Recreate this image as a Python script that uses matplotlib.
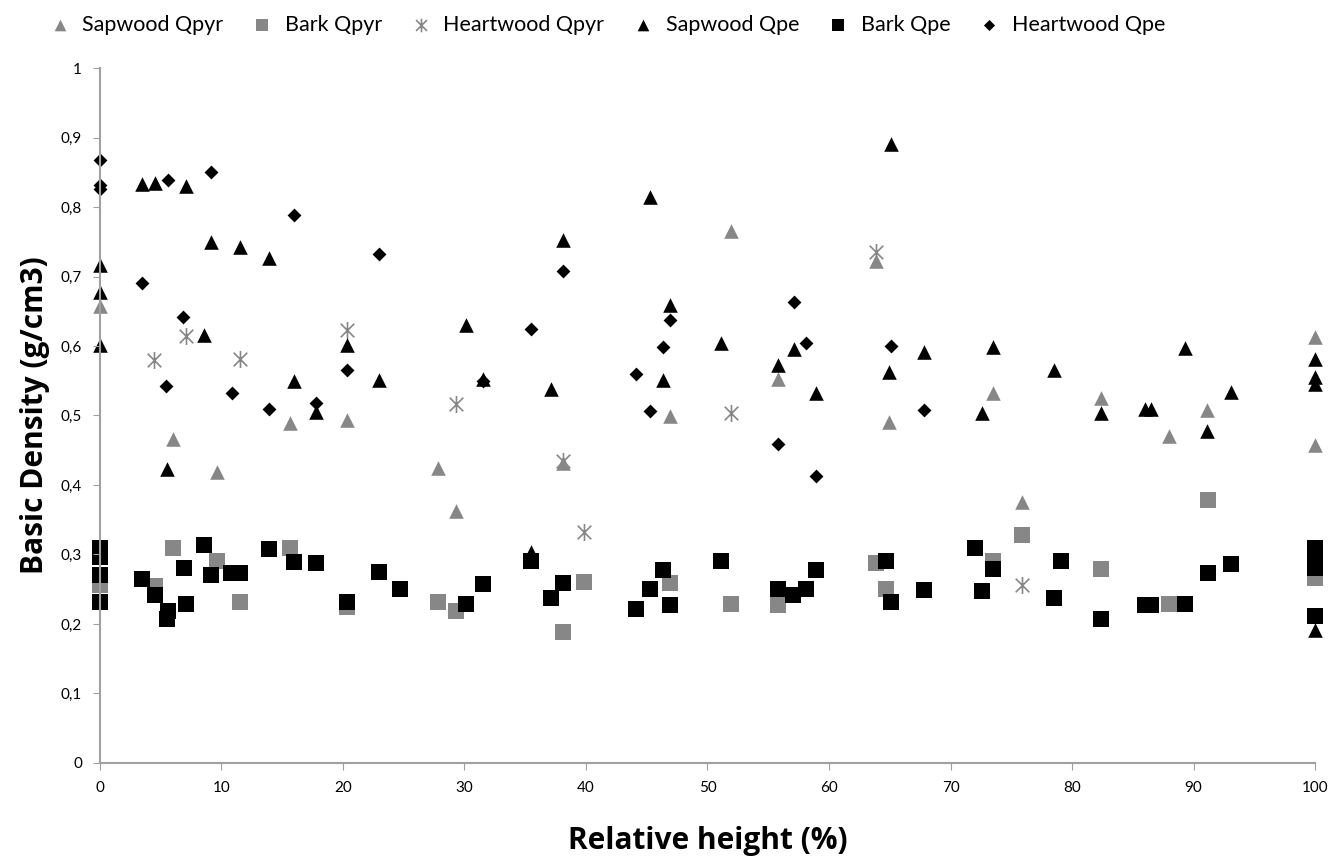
import matplotlib
matplotlib.use("Agg")
import matplotlib.pyplot as plt
from matplotlib.path import Path

plt.rcParams['font.family'] = ['Lato', 'DejaVu Sans']

# Sapwood Qpyr (grey triangles)
sap_pyr_x = [0, 6.0, 9.65, 15.6, 20.35, 27.8, 29.3, 38.1, 46.95, 51.9, 55.8, 63.9,
             64.9, 73.5, 75.9, 82.4, 88.0, 91.1, 100, 100]
sap_pyr_y = [0.657, 0.466, 0.418, 0.489, 0.494, 0.424, 0.363, 0.431, 0.499, 0.766, 0.553, 0.722,
             0.491, 0.532, 0.376, 0.525, 0.470, 0.508, 0.613, 0.457]

# Bark Qpyr (grey squares)
bark_pyr_x = [0, 4.5, 6.0, 9.65, 11.5, 15.6, 20.35, 27.8, 29.3, 38.1, 39.8, 46.95,
              51.9, 55.8, 63.9, 64.7, 73.5, 75.9, 82.4, 88.0, 91.2, 100]
bark_pyr_y = [0.256, 0.254, 0.309, 0.291, 0.232, 0.310, 0.225, 0.231, 0.219, 0.188, 0.261, 0.259,
              0.229, 0.227, 0.288, 0.251, 0.291, 0.328, 0.279, 0.229, 0.379, 0.266]

# Heartwood Qpyr (grey asterisks)
heart_pyr_x = [4.47, 7.08, 11.5, 20.35, 29.3, 38.1, 39.8, 51.9, 63.9, 75.9]
heart_pyr_y = [0.580, 0.614, 0.582, 0.623, 0.517, 0.435, 0.333, 0.504, 0.735, 0.256]

# Sapwood Qpe (black triangles)
sap_pe_x = [0, 0, 0, 3.5, 4.5, 5.54, 7.1, 8.56, 9.1, 11.5, 13.9, 16.0, 17.8, 20.35, 23.0,
            30.1, 31.5, 35.5, 37.1, 38.1, 45.3, 46.3, 46.9, 51.1, 55.8, 57.1, 58.9,
            64.9, 65.1, 67.8, 72.6, 73.5, 78.5, 82.4, 86.0, 86.5, 89.3, 91.1, 93.1,
            100, 100, 100, 100]
sap_pe_y = [0.717, 0.677, 0.601, 0.833, 0.834, 0.423, 0.830, 0.616, 0.750, 0.743, 0.726, 0.549, 0.505, 0.601, 0.551,
            0.630, 0.552, 0.304, 0.538, 0.752, 0.814, 0.551, 0.659, 0.605, 0.573, 0.595, 0.532,
            0.563, 0.891, 0.592, 0.504, 0.599, 0.566, 0.503, 0.510, 0.510, 0.597, 0.477, 0.534,
            0.582, 0.556, 0.546, 0.192]

# Bark Qpe (black squares)
bark_pe_x = [0, 0, 0, 0, 3.5, 4.5, 5.5, 5.6, 6.9, 7.1, 8.6, 9.1, 10.8, 11.5, 13.9, 16.0,
             17.8, 20.35, 23.0, 24.7, 30.1, 31.5, 35.5, 37.1, 38.1, 44.1, 45.3, 46.3, 46.95,
             51.1, 55.8, 57.0, 58.1, 58.9, 64.7, 65.1, 67.8, 72.0, 72.6, 73.5, 78.5, 79.1,
             82.4, 86.0, 86.5, 89.3, 91.2, 93.1, 100, 100, 100, 100]
bark_pe_y = [0.309, 0.297, 0.270, 0.231, 0.265, 0.241, 0.207, 0.219, 0.280, 0.229, 0.313, 0.271, 0.274, 0.274, 0.308, 0.289,
             0.288, 0.232, 0.275, 0.250, 0.229, 0.257, 0.290, 0.238, 0.259, 0.222, 0.250, 0.277, 0.227,
             0.290, 0.250, 0.242, 0.250, 0.277, 0.290, 0.231, 0.249, 0.309, 0.248, 0.279, 0.238, 0.290,
             0.207, 0.227, 0.227, 0.229, 0.274, 0.286, 0.309, 0.295, 0.280, 0.212]

# Heartwood Qpe (black diamonds)
heart_pe_x = [0, 0, 0, 3.5, 5.43, 5.57, 6.86, 9.1, 10.9, 13.9, 16.0, 17.8, 20.35, 23.0,
              31.5, 35.5, 38.1, 44.1, 45.3, 46.3, 46.9, 55.8, 57.1, 58.1, 58.9, 65.1, 67.8]
heart_pe_y = [0.868, 0.832, 0.826, 0.691, 0.542, 0.839, 0.642, 0.850, 0.532, 0.509, 0.788, 0.518, 0.565, 0.732,
              0.549, 0.625, 0.708, 0.560, 0.507, 0.599, 0.638, 0.459, 0.664, 0.605, 0.413, 0.600, 0.508]

grey = '#878787'

# Excel-like star: vertical line plus an X
star = Path([(0, -1), (0, 1), (-0.8, -0.8), (0.8, 0.8), (-0.8, 0.8), (0.8, -0.8)],
            [Path.MOVETO, Path.LINETO, Path.MOVETO, Path.LINETO, Path.MOVETO, Path.LINETO])

fig = plt.figure(figsize=(13.31, 8.59), dpi=100)
ax = fig.add_axes([0.0751, 0.1118, 0.9129, 0.809])

ax.scatter(sap_pyr_x, sap_pyr_y, marker='^', s=110, color=grey, lw=0, label='Sapwood Qpyr')
ax.scatter(bark_pyr_x, bark_pyr_y, marker='s', s=120, color=grey, lw=0, label='Bark Qpyr')
ax.scatter(heart_pyr_x, heart_pyr_y, marker=star, s=150, color=grey, lw=1.2, label='Heartwood Qpyr')
ax.scatter(sap_pe_x, sap_pe_y, marker='^', s=110, color='black', lw=0, label='Sapwood Qpe')
ax.scatter(bark_pe_x, bark_pe_y, marker='s', s=120, color='black', lw=0, label='Bark Qpe')
ax.scatter(heart_pe_x, heart_pe_y, marker='D', s=50, color='black', lw=0, label='Heartwood Qpe')

ax.set_xlim(0, 100)
ax.set_ylim(0, 1)
ax.set_xticks(range(0, 101, 10))
yt = [i / 10 for i in range(11)]
ax.set_yticks(yt)
ax.set_yticklabels(['0'] + ['0,%d' % i for i in range(1, 10)] + ['1'])
ax.tick_params(axis='both', direction='out', length=5, color='#a0a0a0', labelsize=11, pad=8)
for side in ['top', 'right']:
    ax.spines[side].set_visible(False)
for side in ['left', 'bottom']:
    ax.spines[side].set_color('#a0a0a0')
    ax.spines[side].set_linewidth(1.5)
for coll in ax.collections:
    coll.set_clip_on(False)

lab_font = dict(family=['Open Sans', 'DejaVu Sans'], fontsize=21.5, fontweight='bold')
ax.set_xlabel('Relative height (%)', labelpad=22, **lab_font)
ax.set_ylabel('Basic Density (g/cm3)', labelpad=8, **lab_font)

fig.legend(loc='center', bbox_to_anchor=(0.452, 0.971), ncol=6, frameon=False, fontsize=15.5,
           handletextpad=0.05, columnspacing=0.8, markerscale=0.8, borderaxespad=0)

fig.savefig('out.png', dpi=100)
